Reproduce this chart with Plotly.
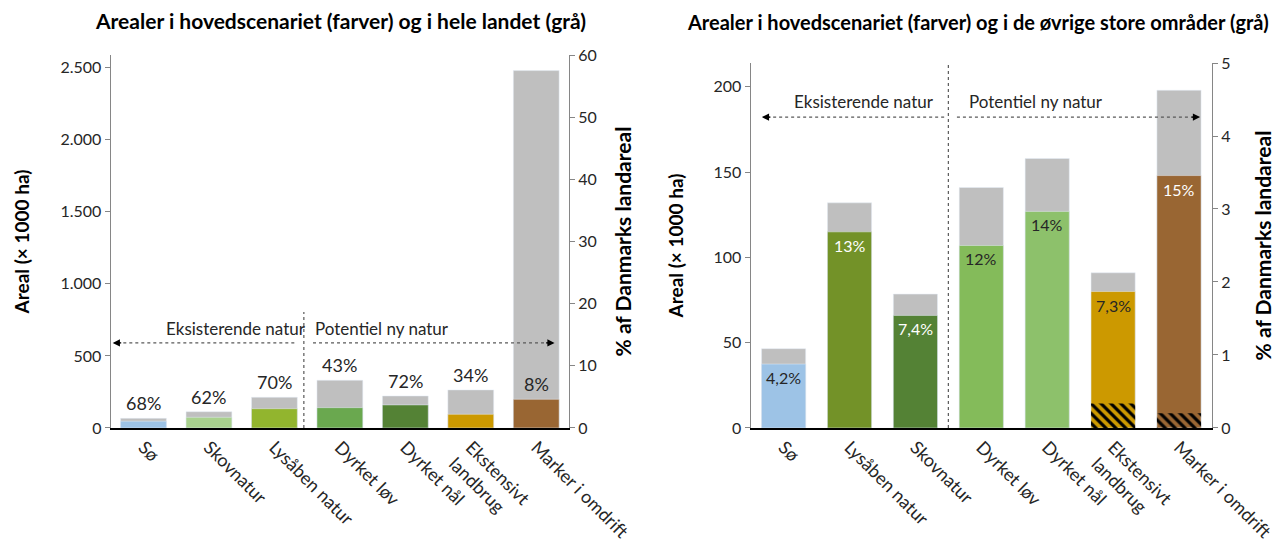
import plotly.graph_objects as go

# --- data ---
cats_left = ["Sø", "Skovnatur", "Lysåben natur", "Dyrket løv", "Dyrket nål",
             "Ekstensivt<br>landbrug", "Marker i omdrift"]
total_left = [67, 113, 213, 331, 222, 264, 2479]      # hele landet (grå)
scen_left = [47, 74, 134, 141, 160, 95, 199]          # hovedscenariet
pct_left = ["68%", "62%", "70%", "43%", "72%", "34%", "8%"]
colors_left = ["#9DC3E6", "#A9D18E", "#92B52E", "#6AA84F", "#548235", "#CC9900", "#996633"]

cats_right = ["Sø", "Lysåben natur", "Skovnatur", "Dyrket løv", "Dyrket nål",
              "Ekstensivt<br>landbrug", "Marker i omdrift"]
total_right = [46.5, 132, 78.5, 141, 158, 91, 198]
scen_right = [37.5, 115, 66, 107, 127, 80, 148]
hatch_right = [0, 0, 0, 0, 0, 14.3, 8.6]
pct_right = ["4,2%", "13%", "7,4%", "12%", "14%", "7,3%", "15%"]
pct_right_col = ["#262626", "white", "white", "#262626", "#262626", "#262626", "white"]
colors_right = ["#9DC3E6", "#739228", "#548235", "#84BB5A", "#8DC16B", "#CC9900", "#996633"]

GRAY = "#BFBFBF"
FONT = "Lato"
AX = "#868686"
TXT = "#262626"
CLEAR = "rgba(0,0,0,0)"

fig = go.Figure()

# left chart
fig.add_trace(go.Bar(x=cats_left, y=total_left, marker_color=GRAY, width=0.7,
                     xaxis="x", yaxis="y", hoverinfo="skip"))
fig.add_trace(go.Bar(x=cats_left, y=scen_left, marker_color=colors_left, width=0.7,
                     xaxis="x", yaxis="y"))
fig.add_trace(go.Scatter(x=[cats_left[0]], y=[0], mode="markers", marker_opacity=0,
                         xaxis="x", yaxis="y2", hoverinfo="skip"))

# right chart
fig.add_trace(go.Bar(x=cats_right, y=total_right, marker_color=GRAY, width=0.67,
                     xaxis="x2", yaxis="y3", hoverinfo="skip"))
fig.add_trace(go.Bar(x=cats_right, y=scen_right, marker_color=colors_right, width=0.67,
                     xaxis="x2", yaxis="y3"))
# hatched part drawn transparently over the coloured bars
fig.add_trace(go.Bar(x=cats_right, y=hatch_right, width=0.67, xaxis="x2", yaxis="y3",
                     marker=dict(color=CLEAR, line_width=0,
                                 pattern=dict(shape="\\", fgcolor="black", bgcolor=CLEAR,
                                              fgopacity=1, size=7, solidity=0.45))))
fig.add_trace(go.Scatter(x=[cats_right[0]], y=[0], mode="markers", marker_opacity=0,
                         xaxis="x2", yaxis="y4", hoverinfo="skip"))

tickfont = dict(family=FONT, size=16, color=TXT)
xtickfont = dict(family=FONT, size=18, color=TXT)
titlefont = dict(family=FONT, size=19, color="black", weight="bold")
title2font = dict(family=FONT, size=21, color="black", weight="bold")

xcommon = dict(type="category", tickangle=45, tickfont=xtickfont, showline=True,
               linecolor="black", linewidth=1.5, ticks="", showgrid=False, automargin=False)
ycommon = dict(showline=True, linecolor=AX, linewidth=1.3, ticks="outside", ticklen=5,
               tickcolor=AX, tickfont=tickfont, showgrid=False, zeroline=False,
               automargin=False)

fig.update_layout(
    width=1276, height=545,
    margin=dict(l=0, r=0, t=0, b=0),
    paper_bgcolor="white", plot_bgcolor="white",
    barmode="overlay", showlegend=False,
    separators=",.",
    font=dict(family=FONT, color=TXT),
    xaxis=dict(xcommon, domain=[0.0868, 0.4459], anchor="y", range=[-0.5, 6.5]),
    yaxis=dict(ycommon, domain=[0.2147, 0.899], range=[0, 2587], dtick=500, tickformat=",d",
               title=dict(text="Areal (× 1000 ha)", font=titlefont, standoff=25)),
    yaxis2=dict(ycommon, domain=[0.2147, 0.899], range=[0, 60], dtick=10, side="right",
                overlaying="y", anchor="x",
                title=dict(text="% af Danmarks landareal", font=title2font, standoff=20)),
    xaxis2=dict(xcommon, domain=[0.5883, 0.9498], anchor="y3", range=[-0.5, 6.5]),
    yaxis3=dict(ycommon, domain=[0.2147, 0.8844], range=[0, 214], dtick=50, anchor="x2",
                title=dict(text="Areal (× 1000 ha)", font=titlefont, standoff=24)),
    yaxis4=dict(ycommon, domain=[0.2147, 0.8844], range=[0, 5], dtick=1, side="right",
                overlaying="y3", anchor="x2",
                title=dict(text="% af Danmarks landareal", font=title2font, standoff=26)),
)

ann = []
# titles
ann.append(dict(text="<b>Arealer i hovedscenariet (farver) og i hele landet (grå)</b>",
                xref="paper", yref="paper", x=340 / 1276, y=1 - 20 / 545, showarrow=False,
                font=dict(family=FONT, size=21, color="black"), xanchor="center", yanchor="middle"))
ann.append(dict(text="<b>Arealer i hovedscenariet (farver) og i de øvrige store områder (grå)</b>",
                xref="paper", yref="paper", x=978 / 1276, y=1 - 22 / 545, showarrow=False,
                font=dict(family=FONT, size=20, color="black"), xanchor="center", yanchor="middle"))

# left percent labels
for i, c in enumerate(cats_left):
    ylab = total_left[i] if total_left[i] < 1000 else scen_left[i]
    ann.append(dict(text=pct_left[i], x=c, y=ylab, xref="x", yref="y", showarrow=False,
                    yanchor="bottom", yshift=2, font=dict(family=FONT, size=18, color=TXT)))
# right percent labels
for i, c in enumerate(cats_right):
    ann.append(dict(text=pct_right[i], x=c, y=scen_right[i], xref="x2", yref="y3", showarrow=False,
                    yanchor="top", yshift=-2, font=dict(family=FONT, size=16, color=pct_right_col[i])))

lblfont = dict(family=FONT, size=17, color=TXT)
# left region labels + arrowheads
ann.append(dict(text="Eksisterende natur", x=1.41, y=693, xref="x", yref="y", showarrow=False,
                xanchor="center", font=lblfont))
ann.append(dict(text="Potentiel ny natur", x=2.59, y=693, xref="x", yref="y", showarrow=False,
                xanchor="left", font=lblfont))
ann.append(dict(text="", x=-0.47, y=590, xref="x", yref="y", showarrow=True, arrowhead=2,
                arrowsize=1.2, arrowwidth=1.2, arrowcolor="black", ax=10, ay=0))
ann.append(dict(text="", x=6.28, y=590, xref="x", yref="y", showarrow=True, arrowhead=2,
                arrowsize=1.2, arrowwidth=1.2, arrowcolor="black", ax=-10, ay=0))
# right region labels + arrowheads
ann.append(dict(text="Eksisterende natur", x=1.22, y=191.5, xref="x2", yref="y3", showarrow=False,
                xanchor="center", font=lblfont))
ann.append(dict(text="Potentiel ny natur", x=2.78, y=191.5, xref="x2", yref="y3", showarrow=False,
                xanchor="left", font=lblfont))
ann.append(dict(text="", x=-0.33, y=182.3, xref="x2", yref="y3", showarrow=True, arrowhead=2,
                arrowsize=1.2, arrowwidth=1.2, arrowcolor="black", ax=10, ay=0))
ann.append(dict(text="", x=6.32, y=182.3, xref="x2", yref="y3", showarrow=True, arrowhead=2,
                arrowsize=1.2, arrowwidth=1.2, arrowcolor="black", ax=-10, ay=0))
fig.update_layout(annotations=ann)

dot = dict(color="#595959", width=1.2, dash="dot")
shapes = [
    dict(type="line", xref="x", yref="y", x0=2.45, x1=2.45, y0=0, y1=804, line=dot),
    dict(type="line", xref="x", yref="y", x0=-0.4, x1=2.31, y0=590, y1=590, line=dot),
    dict(type="line", xref="x", yref="y", x0=2.59, x1=6.2, y0=590, y1=590, line=dot),
    dict(type="line", xref="x2", yref="y3", x0=2.5, x1=2.5, y0=0, y1=214, line=dot),
    dict(type="line", xref="x2", yref="y3", x0=-0.25, x1=2.45, y0=182.3, y1=182.3, line=dot),
    dict(type="line", xref="x2", yref="y3", x0=2.63, x1=6.25, y0=182.3, y1=182.3, line=dot),
]
fig.update_layout(shapes=shapes)

fig.write_html("out.html", config={"displayModeBar": False},
               post_script="document.body.style.margin='0';")
